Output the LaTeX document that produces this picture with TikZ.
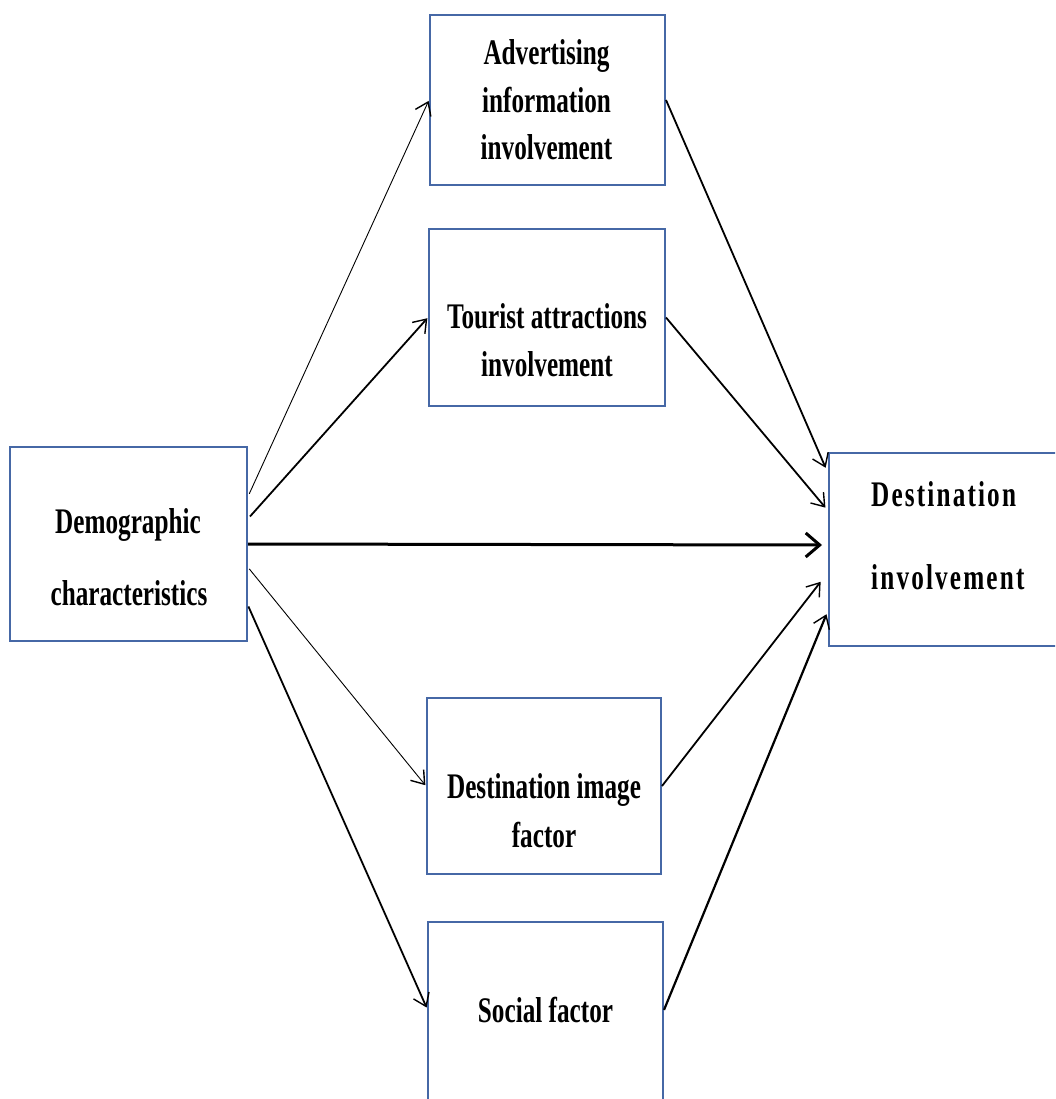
\documentclass[tikz,border=0pt]{standalone}
\usepackage{fontspec}
\setmainfont{Liberation Serif}
\newfontfamily\boxfont[FakeStretch=0.70]{Liberation Serif}
\newfontfamily\boxfontwide[FakeStretch=0.70,LetterSpace=6]{Liberation Serif}
\usetikzlibrary{arrows.meta,calc}
\definecolor{boxblue}{RGB}{70,104,166}
\begin{document}
\begin{tikzpicture}[x=1pt,y=-1pt,
  box/.style={draw=boxblue, line width=2pt, inner sep=0pt, fill=white},
  lbl/.style={anchor=base, inner sep=0pt, font=\boxfont\bfseries\fontsize{36}{42}\selectfont},
  lblwide/.style={anchor=base west, inner sep=0pt, font=\boxfontwide\bfseries\fontsize{36}{42}\selectfont},
  link/.style={draw=black, -{Straight Barb[length=12pt,width=17pt,line width=1.4pt]}},
  thinlink/.style={link, line width=0.9pt},
  midlink/.style={link, line width=1.8pt},
  boldlink/.style={draw=black, line width=3pt, -{Straight Barb[length=14pt,width=24pt,line width=3pt]}}
]
\useasboundingbox (0,0) rectangle (1055,1099);
\clip (0,0) rectangle (1055,1099);

% boxes
\node[box, minimum width=235pt, minimum height=170pt] (adv)  at (547.5,100)  {};
\node[box, minimum width=236pt, minimum height=177pt] (tour) at (547,317.5)  {};
\node[box, minimum width=237pt, minimum height=194pt] (demo) at (128.5,544)  {};
\node[box, minimum width=246pt, minimum height=193pt] (dinv) at (952,549.5)  {};
\node[box, minimum width=234pt, minimum height=176pt] (dimg) at (544,786)    {};
\node[box, minimum width=235pt, minimum height=184pt] (soc)  at (545.5,1014) {};

% box texts
\node[lbl] (adv1)  at (546.5,65)  {Advertising};
\node[lbl] (adv2)  at (546.5,113) {information};
\node[lbl] (adv3)  at (546.5,160) {involvement};
\node[lbl] (tour1) at (547,328)   {Tourist attractions};
\node[lbl] (tour2) at (547,376)   {involvement};
\node[lbl] (demo1) at (128,533)   {Demographic};
\node[lbl] (demo2) at (129,605)   {characteristics};
\node[lblwide] (dinv1) at (871,506) {Destination};
\node[lblwide] (dinv2) at (871,589) {involvement};
\node[lbl] (dimg1) at (544,798)   {Destination image};
\node[lbl] (dimg2) at (544,847)   {factor};
\node[lbl] (soc1)  at (545.5,1022){Social factor};

% from demographic characteristics
\draw[thinlink, shorten <=3pt, shorten >=1pt]
  ($(demo.north east)!0.258!(demo.south east)$) -- (adv.west);
\draw[midlink, shorten <=3pt, shorten >=1pt]
  ($(demo.north east)!0.371!(demo.south east)$) -- (tour.west);
\draw[boldlink, shorten >=6pt]
  (demo.east) -- ($(dinv.north west)!0.477!(dinv.south west)$);
\draw[thinlink, shorten <=2pt, shorten >=1pt]
  ($(demo.north east)!0.619!(demo.south east)$) -- (dimg.west);
\draw[midlink, shorten <=1pt, shorten >=1pt]
  ($(demo.north east)!0.814!(demo.south east)$) -- ($(soc.north west)!0.47!(soc.south west)$);

% into destination involvement
\draw[midlink, shorten >=6pt]
  (adv.east) -- ($(dinv.north west)!0.109!(dinv.south west)$);
\draw[midlink, shorten >=4pt]
  (tour.east) -- ($(dinv.north west)!0.301!(dinv.south west)$);
\draw[midlink, shorten >=12pt]
  (dimg.east) -- ($(dinv.north west)!0.617!(dinv.south west)$);
\draw[midlink, line width=2.2pt, shorten >=4pt]
  ($(soc.north east)!0.478!(soc.south east)$) -- ($(dinv.north west)!0.813!(dinv.south west)$);
\end{tikzpicture}
\end{document}
